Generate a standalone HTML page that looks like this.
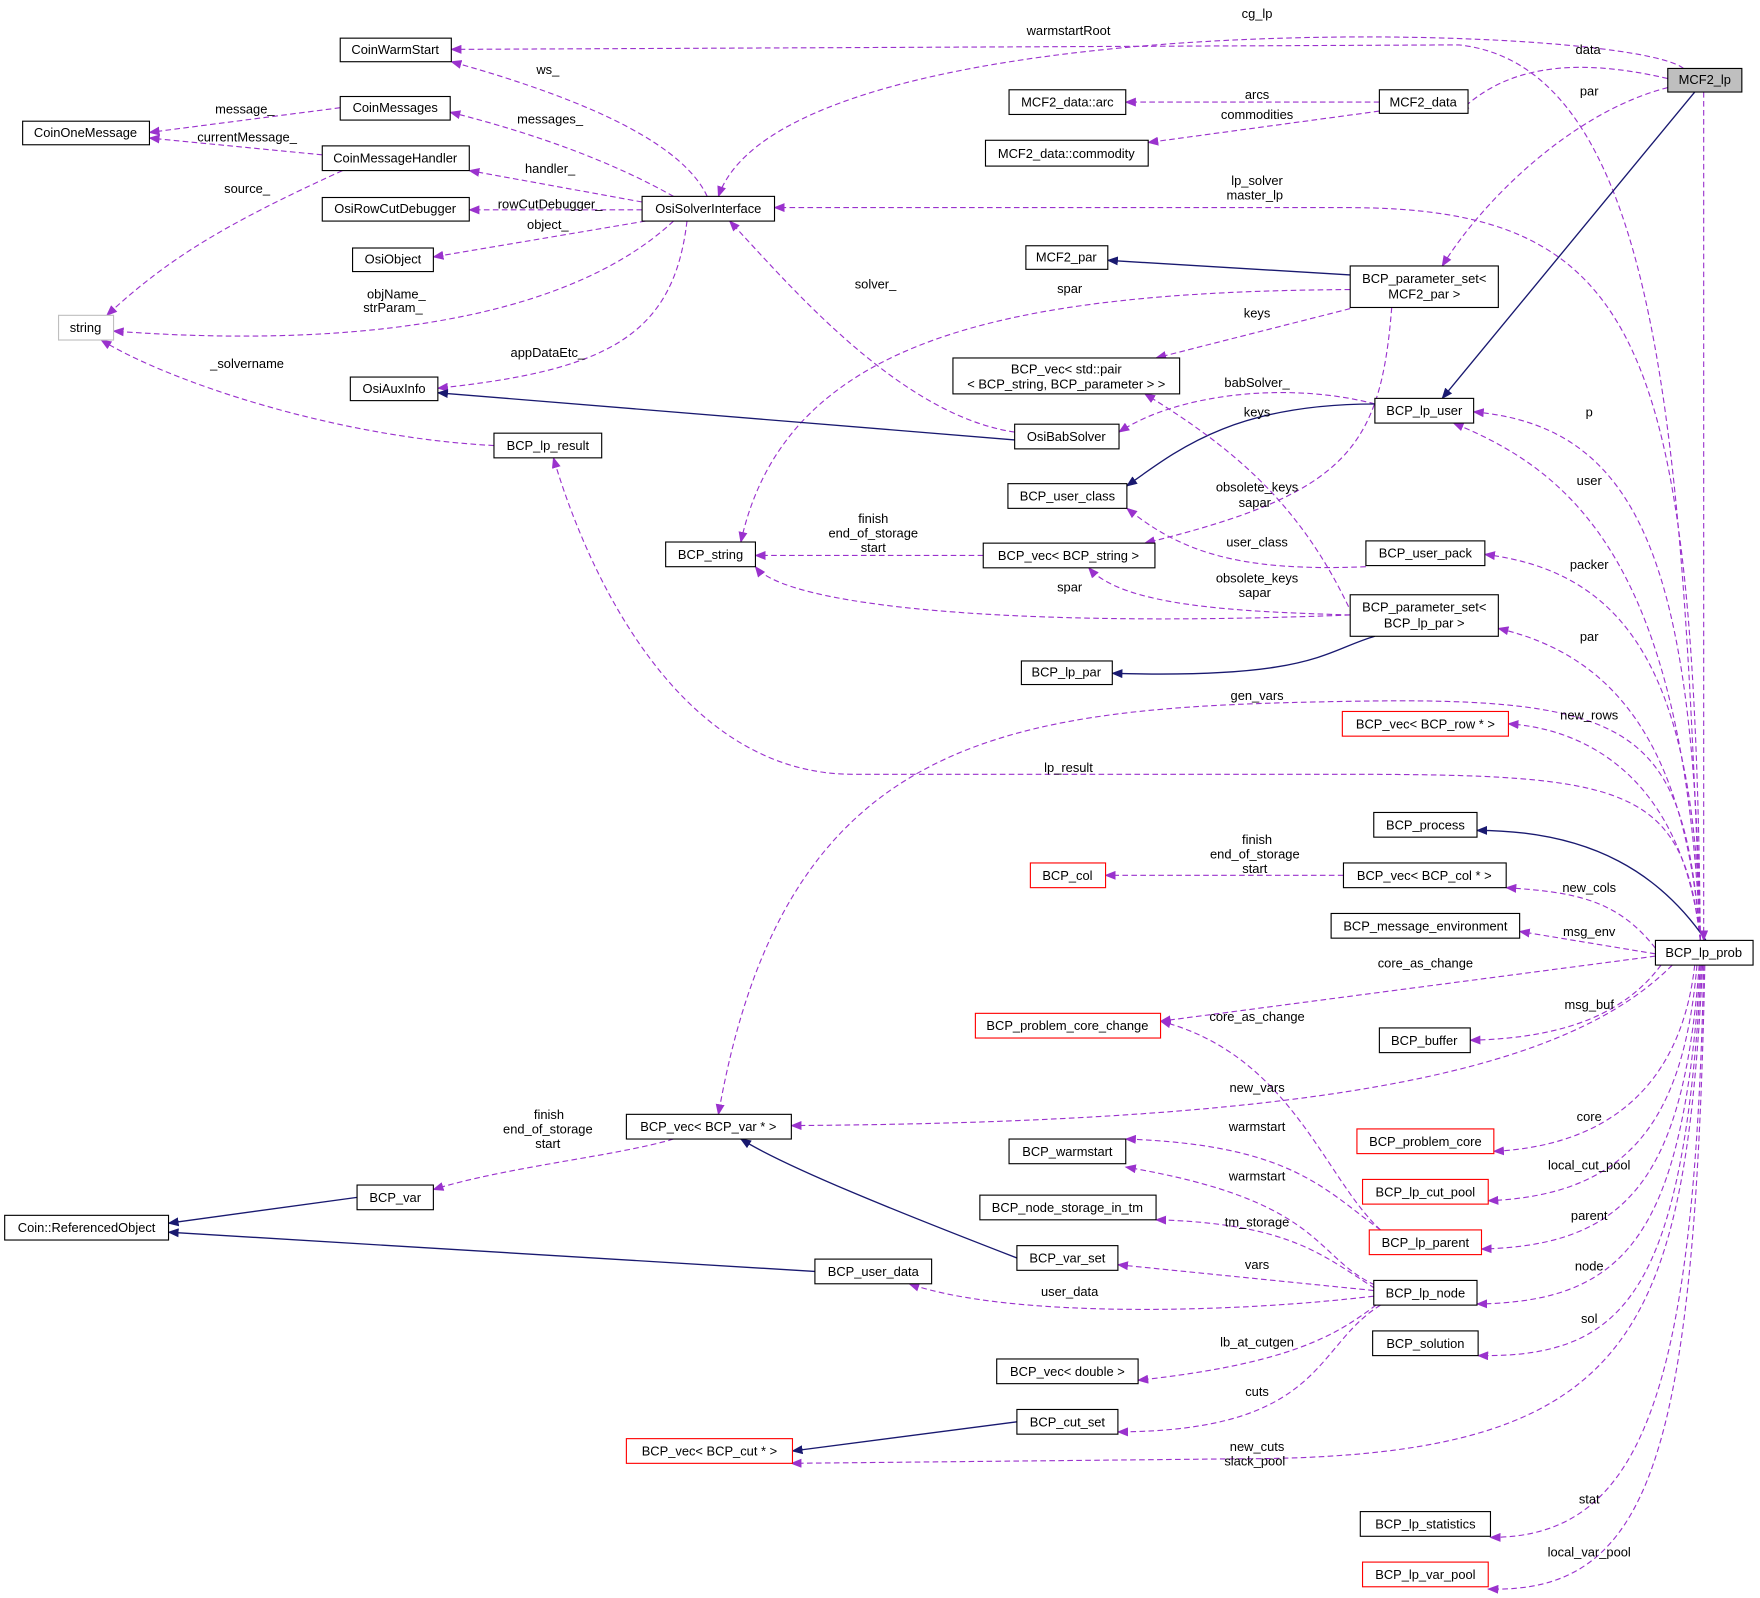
<!DOCTYPE html>
<html><head><meta charset="utf-8"><style>
html,body{margin:0;padding:0;background:#fff}
svg{display:block}
text{font-family:"Liberation Sans",sans-serif;font-size:11.5px;fill:#000}
.n rect{fill:#fff;stroke:#000;stroke-width:1}
.r rect{stroke:#f00}
.d{fill:none;stroke:#9a32cd;stroke-width:1;stroke-dasharray:5,3;marker-end:url(#ap)}
.s{fill:none;stroke:#191970;stroke-width:1.2;marker-end:url(#an)}
.l{text-anchor:middle}
</style></head><body>
<svg width="1760" height="1598" viewBox="0 0 1568 1424" xmlns="http://www.w3.org/2000/svg">
<defs>
<marker id="ap" markerWidth="10" markerHeight="8" refX="9" refY="4" orient="auto" markerUnits="userSpaceOnUse"><path d="M0,0 L10,4 L0,8 z" fill="#9a32cd"/></marker>
<marker id="an" markerWidth="10" markerHeight="8" refX="9" refY="4" orient="auto" markerUnits="userSpaceOnUse"><path d="M0,0 L10,4 L0,8 z" fill="#191970"/></marker>
</defs>
<g>
<path class="d" d="M630,175 Q600,110 402,55"/>
<path class="d" d="M600,175 Q520,130 401,100"/>
<path class="d" d="M572,180 L418,152"/>
<path class="d" d="M572,187 L418,187"/>
<path class="d" d="M575,197 L386,229"/>
<path class="d" d="M600,197 C500,290 300,310 101,295"/>
<path class="d" d="M612,197 C600,300 540,330 390,346"/>
<path class="d" d="M303,96 L133,118"/>
<path class="d" d="M287,138 L133,123"/>
<path class="d" d="M305,152 C200,200 150,230 95,281"/>
<path class="d" d="M440,397 C300,390 150,340 90,303"/>
<path class="d" d="M1500,61 C1450,20 700,0 640,175"/>
<path class="d" d="M1515,838 C1500,400 1480,60 1300,40 L402,44"/>
<path class="d" d="M1486,70 C1400,50 1340,60 1300,100"/>
<path class="d" d="M1229,91 L1003,91"/>
<path class="d" d="M1229,99 L1023,127"/>
<path class="d" d="M1486,78 C1400,100 1320,180 1285,237"/>
<path class="d" d="M1515,838 C1510,300 1460,185 1200,185 L690,185"/>
<path class="s" d="M1510,82 L1285,355"/>
<path class="s" d="M1203,245 L987,232"/>
<path class="d" d="M1203,258 C900,260 700,300 660,483"/>
<path class="d" d="M1203,275 L1030,319"/>
<path class="d" d="M904,385 C800,370 700,250 650,197"/>
<path class="s" d="M904,392 L390,350"/>
<path class="d" d="M1225,360 C1150,340 1050,350 997,385"/>
<path class="s" d="M1225,360 C1100,360 1050,400 1004,433"/>
<path class="d" d="M1240,274 C1230,400 1200,440 1020,484"/>
<path class="d" d="M1217,505 C1100,510 1050,490 1004,453"/>
<path class="d" d="M876,495 L673,495"/>
<path class="d" d="M1203,548 C900,560 700,540 673,505"/>
<path class="d" d="M1203,548 C1100,545 1000,540 970,506"/>
<path class="d" d="M1205,548 C1160,450 1100,400 1020,351"/>
<path class="s" d="M1225,567 C1180,580 1170,605 991,600"/>
<path class="d" d="M1515,838 C1500,640 1420,580 1335,560"/>
<path class="d" d="M1515,838 C1500,700 1420,650 1344,645"/>
<path class="d" d="M1515,838 C1510,500 1460,380 1313,367"/>
<path class="d" d="M1515,838 C1500,500 1400,420 1295,377"/>
<path class="d" d="M1515,838 C1510,600 1450,510 1323,494"/>
<path class="d" d="M1515,838 C1500,650 1460,620 1200,625 C900,630 700,650 640,993"/>
<path class="d" d="M1515,838 C1500,700 1450,690 1200,690 L760,690 C600,690 520,500 493,408"/>
<path class="s" d="M1520,838 C1480,780 1420,740 1316,740"/>
<path class="d" d="M1197,780 L985,780"/>
<path class="d" d="M1475,845 C1440,800 1400,795 1342,791"/>
<path class="d" d="M1475,850 L1354,830"/>
<path class="d" d="M1475,852 L1034,910"/>
<path class="d" d="M1480,860 C1450,900 1400,925 1310,927"/>
<path class="d" d="M1490,860 C1400,950 1200,1000 705,1003"/>
<path class="d" d="M1510,860 C1500,950 1450,1020 1331,1026"/>
<path class="d" d="M1512,860 C1500,1000 1450,1065 1326,1070"/>
<path class="d" d="M1514,860 C1500,1050 1450,1110 1320,1113"/>
<path class="d" d="M1515,860 C1500,1100 1450,1160 1316,1162"/>
<path class="d" d="M1516,860 C1500,1150 1450,1210 1317,1208"/>
<path class="d" d="M1517,860 C1500,1200 1450,1300 1100,1300 L705,1304"/>
<path class="d" d="M1518,860 C1510,1250 1460,1370 1328,1370"/>
<path class="d" d="M1519,860 C1510,1300 1470,1420 1326,1416"/>
<path class="d" d="M1518,82 L1518,838"/>
<path class="d" d="M1230,1096 C1180,1050 1150,940 1034,910"/>
<path class="d" d="M1230,1096 C1180,1060 1150,1020 1003,1015"/>
<path class="d" d="M1225,1145 C1170,1120 1180,1070 1003,1040"/>
<path class="d" d="M1225,1148 C1180,1120 1150,1090 1030,1087"/>
<path class="d" d="M1224,1150 L996,1127"/>
<path class="d" d="M1224,1155 C1100,1170 900,1175 810,1144"/>
<path class="d" d="M1226,1163 C1190,1190 1150,1215 1014,1230"/>
<path class="d" d="M1230,1163 C1170,1200 1180,1275 996,1276"/>
<path class="d" d="M600,1015 C550,1030 450,1040 386,1060"/>
<path class="s" d="M318,1067 L150,1090"/>
<path class="s" d="M726,1133 L150,1098"/>
<path class="s" d="M906,1121 C800,1080 700,1040 660,1015"/>
<path class="s" d="M906,1267 L706,1293"/>
</g>
<g class="l">
<text x="488" y="66">ws_</text><text x="490" y="110">messages_</text><text x="490" y="154">handler_</text>
<text x="490" y="186">rowCutDebugger_</text><text x="488" y="204">object_</text>
<text x="353" y="266">objName_</text><text x="350" y="278">strParam_</text>
<text x="488" y="318">appDataEtc_</text><text x="218" y="101">message_</text><text x="220" y="126">currentMessage_</text>
<text x="220" y="172">source_</text><text x="220" y="328">_solvername</text>
<text x="1120" y="16">cg_lp</text><text x="952" y="31">warmstartRoot</text><text x="1415" y="48">data</text>
<text x="1120" y="88">arcs</text><text x="1120" y="106">commodities</text><text x="1416" y="85">par</text>
<text x="1120" y="165">lp_solver</text><text x="1118" y="178">master_lp</text>
<text x="953" y="261">spar</text><text x="1120" y="283">keys</text><text x="780" y="257">solver_</text>
<text x="1120" y="345">babSolver_</text><text x="1120" y="371">keys</text>
<text x="1120" y="438">obsolete_keys</text><text x="1118" y="452">sapar</text><text x="1120" y="487">user_class</text>
<text x="778" y="466">finish</text><text x="778" y="479">end_of_storage</text><text x="778" y="492">start</text>
<text x="953" y="527">spar</text><text x="1120" y="519">obsolete_keys</text><text x="1118" y="532">sapar</text>
<text x="1416" y="371">p</text><text x="1416" y="432">user</text><text x="1416" y="507">packer</text>
<text x="1416" y="571">par</text><text x="1416" y="641">new_rows</text><text x="1120" y="624">gen_vars</text>
<text x="952" y="688">lp_result</text>
<text x="1120" y="752">finish</text><text x="1118" y="765">end_of_storage</text><text x="1118" y="778">start</text>
<text x="1416" y="795">new_cols</text><text x="1416" y="834">msg_env</text><text x="1270" y="862">core_as_change</text>
<text x="1416" y="899">msg_buf</text><text x="1120" y="910">core_as_change</text><text x="1120" y="973">new_vars</text>
<text x="1416" y="999">core</text><text x="1120" y="1008">warmstart</text><text x="1416" y="1042">local_cut_pool</text>
<text x="1120" y="1052">warmstart</text><text x="1416" y="1087">parent</text><text x="1120" y="1093">tm_storage</text>
<text x="1120" y="1131">vars</text><text x="1416" y="1132">node</text><text x="953" y="1155">user_data</text>
<text x="1416" y="1179">sol</text><text x="1120" y="1200">lb_at_cutgen</text><text x="1120" y="1244">cuts</text>
<text x="1120" y="1293">new_cuts</text><text x="1118" y="1306">slack_pool</text>
<text x="1416" y="1340">stat</text><text x="1416" y="1387">local_var_pool</text>
<text x="489" y="997">finish</text><text x="488" y="1010">end_of_storage</text><text x="488" y="1023">start</text>
</g>
<g class="l">
<g class="n"><rect x="303" y="34" width="99" height="21"/><text x="352" y="48">CoinWarmStart</text></g>
<g class="n"><rect x="1486" y="61" width="66" height="21" style="fill:#bfbfbf"/><text x="1519" y="75">MCF2_lp</text></g>
<g class="n"><rect x="1229" y="80" width="79" height="21"/><text x="1268" y="95">MCF2_data</text></g>
<g class="n"><rect x="899" y="80" width="104" height="22"/><text x="951" y="95">MCF2_data::arc</text></g>
<g class="n"><rect x="878" y="125" width="145" height="23"/><text x="950" y="141">MCF2_data::commodity</text></g>
<g class="n"><rect x="303" y="86" width="98" height="21"/><text x="352" y="100">CoinMessages</text></g>
<g class="n"><rect x="20" y="108" width="113" height="21"/><text x="76" y="122">CoinOneMessage</text></g>
<g class="n"><rect x="287" y="130" width="131" height="22"/><text x="352" y="145">CoinMessageHandler</text></g>
<g class="n"><rect x="572" y="175" width="118" height="22"/><text x="631" y="190">OsiSolverInterface</text></g>
<g class="n"><rect x="287" y="176" width="131" height="21"/><text x="352" y="190">OsiRowCutDebugger</text></g>
<g class="n"><rect x="314" y="221" width="72" height="21"/><text x="350" y="235">OsiObject</text></g>
<g class="n"><rect x="914" y="219" width="73" height="21"/><text x="950" y="233">MCF2_par</text></g>
<g class="n"><rect x="1203" y="237" width="132" height="37"/><text x="1269" y="252">BCP_parameter_set&lt;</text><text x="1269" y="266">MCF2_par &gt;</text></g>
<g class="n"><rect x="52" y="281" width="49" height="22" style="stroke:#bfbfbf"/><text x="76" y="296">string</text></g>
<g class="n"><rect x="849" y="319" width="202" height="32"/><text x="950" y="333">BCP_vec&lt; std::pair</text><text x="950" y="346">&lt; BCP_string, BCP_parameter &gt; &gt;</text></g>
<g class="n"><rect x="312" y="336" width="78" height="21"/><text x="351" y="350">OsiAuxInfo</text></g>
<g class="n"><rect x="1225" y="355" width="88" height="22"/><text x="1269" y="370">BCP_lp_user</text></g>
<g class="n"><rect x="904" y="378" width="93" height="22"/><text x="950" y="393">OsiBabSolver</text></g>
<g class="n"><rect x="440" y="386" width="96" height="22"/><text x="488" y="401">BCP_lp_result</text></g>
<g class="n"><rect x="898" y="431" width="106" height="22"/><text x="951" y="446">BCP_user_class</text></g>
<g class="n"><rect x="593" y="483" width="80" height="22"/><text x="633" y="498">BCP_string</text></g>
<g class="n"><rect x="876" y="484" width="153" height="22"/><text x="952" y="499">BCP_vec&lt; BCP_string &gt;</text></g>
<g class="n"><rect x="1217" y="482" width="106" height="22"/><text x="1270" y="497">BCP_user_pack</text></g>
<g class="n"><rect x="1203" y="530" width="132" height="37"/><text x="1269" y="545">BCP_parameter_set&lt;</text><text x="1269" y="559">BCP_lp_par &gt;</text></g>
<g class="n"><rect x="910" y="589" width="81" height="21"/><text x="950" y="603">BCP_lp_par</text></g>
<g class="n r"><rect x="1196" y="634" width="148" height="22"/><text x="1270" y="649">BCP_vec&lt; BCP_row * &gt;</text></g>
<g class="n"><rect x="1224" y="724" width="92" height="22"/><text x="1270" y="739">BCP_process</text></g>
<g class="n r"><rect x="918" y="769" width="67" height="22"/><text x="951" y="784">BCP_col</text></g>
<g class="n"><rect x="1197" y="769" width="145" height="22"/><text x="1269" y="784">BCP_vec&lt; BCP_col * &gt;</text></g>
<g class="n"><rect x="1186" y="814" width="168" height="22"/><text x="1270" y="829">BCP_message_environment</text></g>
<g class="n"><rect x="1475" y="838" width="87" height="22"/><text x="1518" y="853">BCP_lp_prob</text></g>
<g class="n r"><rect x="869" y="903" width="165" height="22"/><text x="951" y="918">BCP_problem_core_change</text></g>
<g class="n"><rect x="1229" y="916" width="81" height="22"/><text x="1269" y="931">BCP_buffer</text></g>
<g class="n"><rect x="558" y="993" width="147" height="22"/><text x="631" y="1008">BCP_vec&lt; BCP_var * &gt;</text></g>
<g class="n r"><rect x="1209" y="1006" width="122" height="22"/><text x="1270" y="1021">BCP_problem_core</text></g>
<g class="n"><rect x="899" y="1015" width="104" height="22"/><text x="951" y="1030">BCP_warmstart</text></g>
<g class="n"><rect x="318" y="1056" width="68" height="22"/><text x="352" y="1071">BCP_var</text></g>
<g class="n"><rect x="873" y="1065" width="157" height="22"/><text x="951" y="1080">BCP_node_storage_in_tm</text></g>
<g class="n r"><rect x="1214" y="1051" width="112" height="22"/><text x="1270" y="1066">BCP_lp_cut_pool</text></g>
<g class="n"><rect x="4" y="1083" width="146" height="22"/><text x="77" y="1098">Coin::ReferencedObject</text></g>
<g class="n r"><rect x="1220" y="1096" width="100" height="22"/><text x="1270" y="1111">BCP_lp_parent</text></g>
<g class="n"><rect x="906" y="1110" width="90" height="22"/><text x="951" y="1125">BCP_var_set</text></g>
<g class="n"><rect x="726" y="1122" width="104" height="22"/><text x="778" y="1137">BCP_user_data</text></g>
<g class="n"><rect x="1224" y="1141" width="92" height="22"/><text x="1270" y="1156">BCP_lp_node</text></g>
<g class="n"><rect x="1223" y="1186" width="94" height="22"/><text x="1270" y="1201">BCP_solution</text></g>
<g class="n"><rect x="888" y="1211" width="126" height="22"/><text x="951" y="1226">BCP_vec&lt; double &gt;</text></g>
<g class="n"><rect x="906" y="1256" width="90" height="22"/><text x="951" y="1271">BCP_cut_set</text></g>
<g class="n r"><rect x="558" y="1282" width="148" height="22"/><text x="632" y="1297">BCP_vec&lt; BCP_cut * &gt;</text></g>
<g class="n"><rect x="1212" y="1347" width="116" height="22"/><text x="1270" y="1362">BCP_lp_statistics</text></g>
<g class="n r"><rect x="1214" y="1392" width="112" height="22"/><text x="1270" y="1407">BCP_lp_var_pool</text></g>
</g>
</svg>
</body></html>
